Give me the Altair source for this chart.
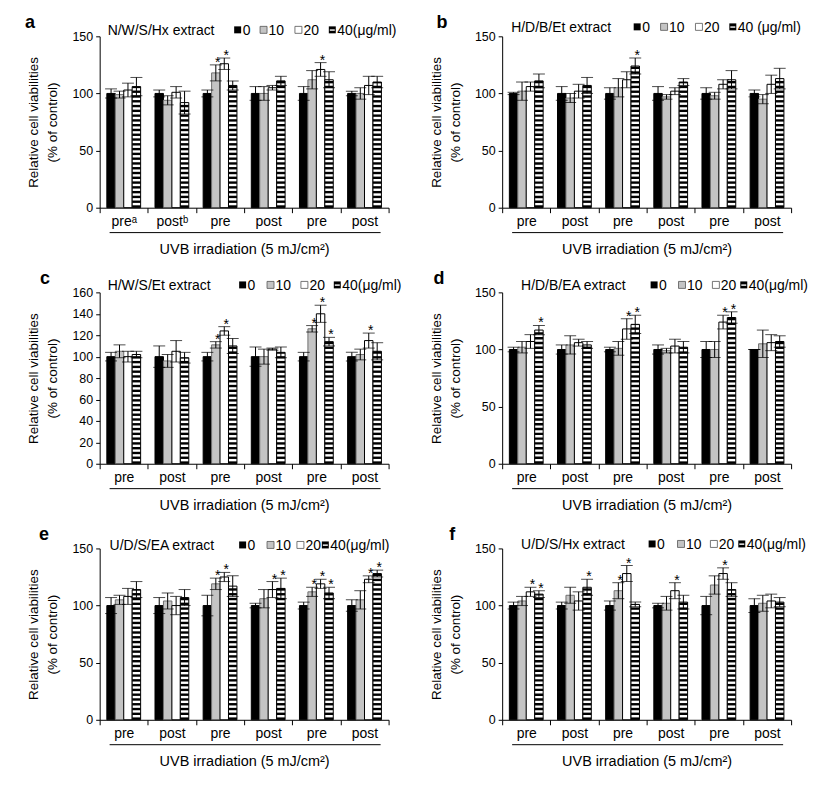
import json
import altair as alt
import pandas as pd

# ---------------- data ----------------
CONC = ["0", "10", "20", "40"]
LETTERS = ["a", "b", "c", "d", "e", "f"]
EXTRACTS = ["N/W/S/Hx extract", "H/D/B/Et extract", "H/W/S/Et extract",
            "H/D/B/EA extract", "U/D/S/EA extract", "U/D/S/Hx extract"]
UNIT_LABELS = ["40(μg/ml)", "40 (μg/ml)", "40(μg/ml)", "40(μg/ml)", "40(μg/ml)", "40(μg/ml)"]
GROUP_LABELS_A = ["preᵃ", "postᵇ", "pre", "post", "pre", "post"]
GROUP_LABELS = ["pre", "post", "pre", "post", "pre", "post"]
X_TITLE = "UVB irradiation (5 mJ/cm²)"
Y_TITLE = ["Relative cell viabilities", "(% of control)"]
YMAX = [150, 150, 160, 150, 150, 150]
YSTEP = [50, 50, 20, 50, 50, 50]

# mean values per group: [0, 10, 20, 40 ug/ml]
A_MEAN = [[100, 99, 103, 106], [100, 94, 101, 92], [100, 118, 126, 107],
          [100, 100, 105, 111], [100, 112, 121, 112], [100, 100, 107, 110]]
A_ERR = [[4, 3, 6, 8], [3, 4, 5, 10], [3, 7, 5, 4], [6, 6, 2, 4], [6, 8, 6, 7], [2, 5, 8, 5]]
B_MEAN = [[100, 102, 106, 111], [100, 96, 102, 107], [100, 105, 112, 124],
          [100, 97, 102, 110], [100, 98, 108, 112], [100, 95, 108, 113]]
B_ERR = [[1, 8, 4, 6], [6, 4, 6, 7], [5, 8, 7, 7], [6, 2, 3, 3], [5, 3, 4, 8], [3, 4, 8, 9]]
C_MEAN = [[100, 105, 100, 102], [100, 96, 105, 99], [100, 111, 124, 110],
          [100, 100, 107, 104], [100, 126, 140, 114], [100, 102, 115, 105]]
C_ERR = [[4, 6, 5, 3], [10, 6, 10, 5], [4, 3, 4, 7], [9, 7, 1, 5], [4, 3, 8, 4], [4, 5, 7, 8]]
D_MEAN = [[100, 102, 107, 117], [100, 104, 106, 104], [100, 101, 118, 122],
          [100, 99, 103, 102], [100, 100, 124, 128], [100, 105, 106, 107]]
D_ERR = [[2, 5, 6, 4], [4, 8, 3, 3], [2, 6, 9, 8], [4, 2, 6, 5], [7, 7, 6, 5], [0, 12, 7, 5]]
E_MEAN = [[100, 105, 108, 114], [100, 104, 100, 107], [100, 119, 125, 117],
          [100, 106, 114, 115], [100, 112, 119, 111], [100, 105, 123, 128]]
E_ERR = [[7, 4, 7, 7], [7, 7, 8, 7], [9, 5, 4, 9], [2, 8, 7, 9], [3, 4, 4, 5], [5, 8, 3, 3]]
F_MEAN = [[100, 104, 112, 110], [100, 109, 104, 116], [100, 113, 128, 101],
          [100, 102, 113, 103], [100, 118, 128, 114], [100, 102, 104, 103]]
F_ERR = [[3, 4, 4, 3], [3, 7, 8, 7], [4, 7, 7, 2], [2, 6, 7, 6], [8, 8, 5, 6], [6, 7, 6, 4]]

# significant bars (group index, concentration index)
A_STAR = [(2, 1), (2, 2), (4, 2)]
B_STAR = [(2, 3)]
C_STAR = [(2, 1), (2, 2), (4, 1), (4, 2), (4, 3), (5, 2)]
D_STAR = [(0, 3), (2, 2), (2, 3), (4, 2), (4, 3)]
E_STAR = [(2, 1), (2, 2), (3, 2), (3, 3), (4, 1), (4, 2), (4, 3), (5, 2), (5, 3)]
F_STAR = [(0, 2), (0, 3), (1, 3), (2, 1), (2, 2), (3, 2), (4, 2)]

MEANS = [A_MEAN, B_MEAN, C_MEAN, D_MEAN, E_MEAN, F_MEAN]
ERRS = [A_ERR, B_ERR, C_ERR, D_ERR, E_ERR, F_ERR]
STARS = [A_STAR, B_STAR, C_STAR, D_STAR, E_STAR, F_STAR]

# ---------------- layout / style ----------------
FONT = "Liberation Sans"
W, H = 290, 172
STRIPE_PX = 4.8
LETTER_DX = [-75, -66, -60, -69, -61, -53]
LEG_TITLE_DX = [8, 9, 8, 19, 10, 19]
LEG_SQ_DX = [[135, 161, 196, 230], [132, 159, 194, 228], [140, 168, 202, 235],
             [149, 177, 211, 239], [140, 168, 198, 223], [147, 176, 209, 237]]
LEG_Y = [-1, -4, -2, -2, 2, 1]
FILLS = ["#000000", "#c4c4c4", "#ffffff", "#ffffff"]
STROKES = ["#000000", "#707070", "#000000", "#000000"]

one = pd.DataFrame({"k": [0]})


def text_at(txt, x, y, size=14, weight="normal"):
    return alt.Chart(one).mark_text(
        text=txt, font=FONT, fontSize=size, fontWeight=weight,
        align="left", baseline="alphabetic", color="black"
    ).encode(x=alt.value(x), y=alt.value(y))


def rect_at(x, y, w, h, fill, stroke=None):
    kw = dict(fill=fill)
    if stroke:
        kw.update(stroke=stroke, strokeWidth=0.8)
    return alt.Chart(one).mark_rect(**kw).encode(
        x=alt.value(x), x2=alt.value(x + w), y=alt.value(y), y2=alt.value(y + h))


def panel(i):
    means, errs, stars = MEANS[i], ERRS[i], STARS[i]
    ymax, ystep = YMAX[i], YSTEP[i]
    labels = GROUP_LABELS_A if i == 0 else GROUP_LABELS
    rows = []
    for g in range(6):
        for k in range(4):
            v, e = means[g][k], errs[g][k]
            rows.append(dict(g=g, c=CONC[k], v=v, lo=v - e, hi=v + e,
                             star=(g, k) in stars))
    df = pd.DataFrame(rows)

    period = STRIPE_PX * ymax / H
    srows = []
    for g in range(6):
        v = means[g][3]
        y0 = 0.0
        while y0 < v - 0.3:
            srows.append(dict(g=g, c="40", s0=y0, s1=min(y0 + period / 2, v)))
            y0 += period
    sdf = pd.DataFrame(srows)

    xaxis = alt.Axis(
        title=X_TITLE, labelExpr=json.dumps(labels) + "[datum.value]",
        labelAngle=0, labelFontSize=14, labelPadding=2, tickSize=5,
        tickBand="extent", titleFontSize=14.5, titlePadding=14, zindex=1,
    )
    X = alt.X("g:O", scale=alt.Scale(domain=list(range(6)), paddingInner=0, paddingOuter=0),
              axis=xaxis)
    XO = alt.XOffset("c:N", scale=alt.Scale(domain=CONC, paddingInner=0, paddingOuter=0.85))
    yaxis = alt.Axis(
        title=Y_TITLE, values=list(range(0, ymax + 1, ystep)), labelFontSize=12.5,
        tickSize=4, labelPadding=3, titleFontSize=13.5, titlePadding=12,
        titleLineHeight=19.5, grid=False,
    )

    def Y(field):
        return alt.Y(field, scale=alt.Scale(domain=[0, ymax], nice=False), axis=yaxis)

    base = alt.Chart(df)
    bars = base.mark_bar().encode(
        x=X, xOffset=XO, y=Y("v:Q"),
        fill=alt.Fill("c:N", scale=alt.Scale(domain=CONC, range=FILLS), legend=None),
        stroke=alt.Stroke("c:N", scale=alt.Scale(domain=CONC, range=STROKES), legend=None),
        strokeWidth=alt.StrokeWidth("c:N", scale=alt.Scale(domain=CONC, range=[1, 1, 1, 2.4]),
                                    legend=None),
    )
    stripes = alt.Chart(sdf).mark_bar(color="black").encode(
        x=X, xOffset=XO, y=Y("s0:Q"), y2="s1:Q")
    err = base.mark_rule(color="black", strokeWidth=1).encode(
        x=X, xOffset=XO, y=Y("lo:Q"), y2="hi:Q")
    cap_hi = base.mark_tick(color="black", size=12, thickness=1).encode(
        x=X, xOffset=XO, y=Y("hi:Q"))
    cap_lo = base.mark_tick(color="black", size=12, thickness=1).encode(
        x=X, xOffset=XO, y=Y("lo:Q"))
    star = base.transform_filter("datum.star").mark_text(
        text="*", font=FONT, fontSize=14, dx=2, dy=2, baseline="alphabetic", color="black"
    ).encode(x=X, xOffset=XO, y=Y("hi:Q"))

    layers = [bars, stripes, err, cap_hi, cap_lo, star]

    # panel letter and legend
    layers.append(text_at(LETTERS[i], LETTER_DX[i], -8, size=18, weight="bold"))
    ly = LEG_Y[i]
    layers.append(text_at(EXTRACTS[i], LEG_TITLE_DX[i], ly))
    sq = LEG_SQ_DX[i]
    leg_labels = ["0", "10", "20", UNIT_LABELS[i]]
    layers.append(rect_at(sq[0], ly - 9, 7, 7, "#000000"))
    layers.append(rect_at(sq[1], ly - 9, 7, 7, "#c4c4c4", "#555555"))
    layers.append(rect_at(sq[2], ly - 9, 7, 7, "#ffffff", "#555555"))
    layers.append(rect_at(sq[3], ly - 9, 7, 7, "#000000"))
    layers.append(rect_at(sq[3] + 1, ly - 6, 5, 1.4, "#ffffff"))
    for k in range(4):
        layers.append(text_at(leg_labels[k], sq[k] + 8.5, ly))
    # line above the UVB title
    layers.append(alt.Chart(one).mark_rule(color="black", strokeWidth=1).encode(
        x=alt.value(10), x2=alt.value(282), y=alt.value(H + 25)))

    return alt.layer(*layers).properties(width=W, height=H)


panels = [panel(i) for i in range(6)]

chart = alt.concat(
    *panels, columns=2, spacing={"row": 85, "column": 114}, bounds="flush"
).properties(
    padding={"left": 17, "top": 5, "right": 10, "bottom": 10}
).configure_view(stroke=None).configure_axis(
    labelFont=FONT, titleFont=FONT, labelColor="black", titleColor="black",
    domainColor="black", tickColor="black", titleFontWeight="normal", grid=False,
)

chart.save("out.html", embed_options={"renderer": "svg", "actions": False})
